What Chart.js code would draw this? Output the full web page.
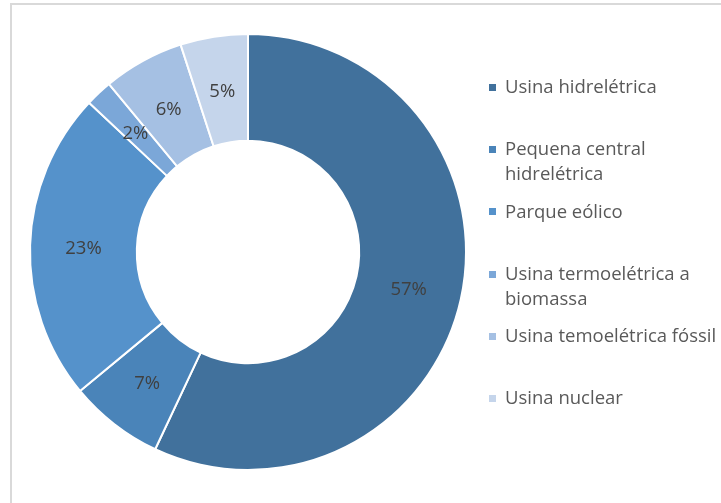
<!DOCTYPE html>
<html>
<head>
<meta charset="utf-8">
<script src="https://cdn.jsdelivr.net/npm/chart.js@4/dist/chart.umd.min.js"></script>
<style>
html,body{margin:0;padding:0;background:#fff;}
#wrap{position:relative;width:721px;height:503px;overflow:hidden;}
#frame{position:absolute;left:10px;top:3px;right:-5px;bottom:-5px;border-top:2px solid #d9d9d9;border-left:2px solid #d9d9d9;}
canvas{position:absolute;left:0;top:0;}
</style>
</head>
<body>
<div id="wrap">
<div id="frame"></div>
<canvas id="c" width="721" height="503"></canvas>
</div>
<script>
const categories = [
  ['Usina hidrelétrica'],
  ['Pequena central', 'hidrelétrica'],
  ['Parque eólico'],
  ['Usina termoelétrica a', 'biomassa'],
  ['Usina temoelétrica fóssil'],
  ['Usina nuclear']
];
const shares = [57, 7, 23, 2, 6, 5];
const sliceColors = ['#41719C', '#4A84B9', '#5592CB', '#7BA7D8', '#A5C0E3', '#C5D5EB'];

const FONT = '18.5px "Open Sans", "Noto Sans", sans-serif';
const TEXT = '#404040';

const labelsPlugin = {
  id: 'sliceLabels',
  afterDatasetsDraw(chart) {
    const ctx = chart.ctx;
    const meta = chart.getDatasetMeta(0);
    ctx.save();
    ctx.font = FONT;
    ctx.fillStyle = TEXT;
    ctx.textAlign = 'center';
    ctx.textBaseline = 'middle';
    meta.data.forEach((arc, i) => {
      const p = arc.tooltipPosition();
      ctx.fillText(shares[i] + '%', p.x, p.y + 2);
    });
    ctx.restore();
  }
};

const legendPlugin = {
  id: 'sideLegend',
  afterDraw(chart) {
    const ctx = chart.ctx;
    ctx.save();
    ctx.font = FONT;
    ctx.textBaseline = 'middle';
    ctx.textAlign = 'left';
    const x0 = 489, tx = 505, y0 = 88, step = 62.2, lh = 25;
    categories.forEach((lines, i) => {
      const y = y0 + i * step;
      ctx.fillStyle = sliceColors[i];
      ctx.fillRect(x0, Math.round(y - 4), 7, 7);
      ctx.fillStyle = '#595959';
      lines.forEach((t, j) => ctx.fillText(t, tx, y + j * lh));
    });
    ctx.restore();
  }
};

new Chart(document.getElementById('c'), {
  type: 'doughnut',
  data: {
    labels: categories,
    datasets: [{
      data: shares,
      backgroundColor: sliceColors,
      borderColor: '#ffffff',
      borderWidth: 2
    }]
  },
  options: {
    responsive: false,
    animation: false,
    cutout: '51%',
    layout: { padding: { left: 29, right: 254, top: 33, bottom: 32 } },
    plugins: { legend: { display: false }, tooltip: { enabled: false } }
  },
  plugins: [labelsPlugin, legendPlugin]
});
</script>
</body>
</html>
